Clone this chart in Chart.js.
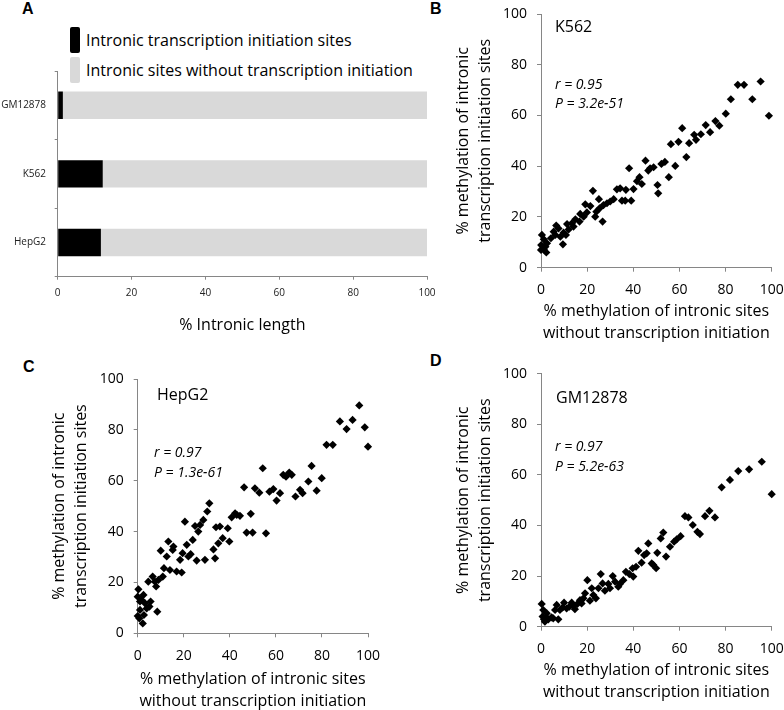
<!DOCTYPE html>
<html>
<head>
<meta charset="utf-8">
<script src="https://cdn.jsdelivr.net/npm/chart.js@4.4.0/dist/chart.umd.min.js"></script>
<style>
  html, body { margin: 0; padding: 0; background: #fff; }
  body { width: 784px; height: 710px; position: relative; overflow: hidden; font-family: 'Open Sans', sans-serif; color: #000; }
  canvas { position: absolute; }
  .panel { position: absolute; font-family: 'Liberation Sans', Arial, sans-serif; font-weight: bold; font-size: 16px; line-height: 16px; }
  .note { position: absolute; font-size: 16px; line-height: 20px; white-space: nowrap; }
  .stat { position: absolute; font-size: 14px; line-height: 20px; font-style: italic; white-space: nowrap; }
  .leg { position: absolute; left: 70px; display: flex; align-items: center; font-size: 16px; white-space: nowrap; }
  .leg span.box { display: inline-block; width: 10px; height: 26px; border-radius: 2px; margin-right: 6px; }
</style>
</head>
<body>
<div class="panel" style="left:22px;top:1px">A</div>
<div class="panel" style="left:430px;top:1px">B</div>
<div class="panel" style="left:23px;top:359px">C</div>
<div class="panel" style="left:430px;top:353px">D</div>

<div id="legendA"></div>

<canvas id="chartA" width="440" height="345" style="left:0;top:0"></canvas>
<canvas id="chartB" width="344" height="345" style="left:440px;top:0"></canvas>
<canvas id="chartC" width="400" height="370" style="left:0;top:345px"></canvas>
<canvas id="chartD" width="344" height="365" style="left:440px;top:345px"></canvas>

<div class="note" style="left:555px;top:16px">K562</div>
<div class="stat" style="left:555px;top:74px">r = 0.95</div>
<div class="stat" style="left:555px;top:93px">P = 3.2e-51</div>

<div class="note" style="left:157px;top:384px">HepG2</div>
<div class="stat" style="left:154px;top:442px">r = 0.97</div>
<div class="stat" style="left:154px;top:462px">P = 1.3e-61</div>

<div class="note" style="left:556px;top:387px">GM12878</div>
<div class="stat" style="left:555px;top:436px">r = 0.97</div>
<div class="stat" style="left:555px;top:456px">P = 5.2e-63</div>

<script>
// panel A: share of intronic length
const cellLines = ['GM12878', 'K562', 'HepG2'];
const initiationShare = [1.4, 12.2, 11.7];
const noInitiationShare = [98.6, 87.8, 88.3];
const percentTicks = [0, 20, 40, 60, 80, 100];

// panels B-D: [% methylation without initiation, % methylation of initiation sites]
const k562Points = [
  [82.3,66.4],[85.3,72.1],[88,72.1],[91.6,66.4],[95.2,73.4],[98.8,59.9],[80.1,60.7],[77.3,56],
  [75.6,57.8],[73.3,53.4],[71.4,56.2],[69.3,52.6],[67.2,50.4],[66.4,52.4],[64.2,49.1],[63,43.6],
  [61.2,55],[59.6,49.6],[58.2,40.1],[56.3,48.7],[55.4,35.7],[53.7,41.7],[52.2,40.9],[50.5,32.6],
  [50.8,29.3],[48.8,39.6],[47.3,39.2],[46.5,38.3],[45.3,42.2],[43.7,33],[42.7,35.7],[41.6,34.1],
  [40.1,31],[38.2,39.2],[39.1,26.4],[36.5,26.4],[35.1,26.4],[36.8,30.7],[34.3,31.3],[32.9,30.9],
  [31.5,27],[30,26.1],[28.6,25.4],[27.1,24.7],[25.1,27],[25.4,23.4],[22.5,30.3],[23.5,20.1],
  [26.7,18.2],[24,22.1],[21.4,24.3],[19.2,25],[19.9,21.8],[18.5,20.1],[17,21.2],[16.7,18.2],
  [14.9,19.1],[14.1,16.2],[13.4,17.5],[12,15.1],[11.3,17.2],[10.8,12.9],[9.5,9.2],[9.8,13.8],
  [8.4,12.2],[7.6,15.5],[6.6,16.6],[6.2,12.9],[5.5,14.2],[4.3,11.6],[2.6,9.6],[2.3,6],
  [1.9,8.3],[1.2,7.2],[0.4,12.9],[0.1,8.9],[0,7],[1.2,11.2]
];
const hepg2Points = [
  [96.2,89.6],[93.3,83.9],[87.8,83.3],[90.7,80.3],[98.6,81],[100,73.4],[82,74.1],[84.7,74.1],
  [79.9,61],[77.7,56.1],[75.5,65.8],[74.1,59.7],[71.6,55.1],[70.5,56.4],[68.5,53.8],[66.9,62.3],
  [65.8,63.2],[64.4,61.6],[63.2,62.3],[61.8,55.1],[60.3,52.2],[58.9,56.7],[57.2,55.7],[54.3,64.9],
  [52.8,55.3],[50.9,57],[46.2,57.4],[55.7,39.3],[49.9,39.6],[47.3,39.6],[49.1,47],[44.4,46.2],
  [43,46.6],[42.3,47.2],[40.8,45.6],[39.8,36.1],[39.1,41.3],[36.9,37.4],[35.7,42],[35,35.4],
  [34,41.7],[32.9,33],[33.6,29.5],[31.1,51.1],[30.2,47.9],[29.2,28.9],[28.5,44.6],[27.1,42.6],
  [25.6,28.6],[26.3,40],[24.9,42.2],[23.9,36.7],[23,31.1],[22,30.2],[21.3,34.8],[20.5,43.9],
  [19.5,31.5],[18.4,28.9],[16.9,24.3],[19.1,23.9],[15.2,32.8],[15.5,34.1],[13.3,36.1],[12.6,30.2],
  [14,24.9],[11.4,25.6],[10.9,22.3],[10,32.5],[9,21],[8,18.4],[7.5,20.3],[6.5,22.3],
  [4.6,20.3],[8.5,8.5],[5.6,12.5],[5.1,10.5],[2.7,7.2],[2.2,3.9],[1.7,13.1],[1,9.2],
  [0.7,5.9],[0.3,17.3],[0,14.4],[3.2,11.8],[2.5,15.1],[3.9,9.8],[0,6.8],[1,12.5]
];
const gm12878Points = [
  [95.7,65.2],[90.2,62.2],[85.5,61.5],[81.9,58],[78.3,55.1],[100,52.4],[75.4,43.2],[73,45.8],
  [71.1,43.7],[68.9,36.6],[67.8,37.5],[65.8,40.2],[63.9,43.2],[62.4,43.7],[60.5,35.8],[58.8,34.5],
  [57.7,33.6],[55.9,31.6],[54.2,27.7],[53,37.2],[51.9,34.9],[50.4,29.2],[49.9,23.1],[48.7,24.4],
  [48,25],[46.5,32.9],[45.8,29],[44.7,28.3],[43.6,25.3],[42.2,30],[41.2,23.7],[40,19.8],
  [39.7,23.1],[38.3,20.8],[36.8,21.7],[35.7,18.4],[34.2,16.9],[33.5,15.8],[32.1,17.8],[31.1,20],
  [29.9,15.2],[29.2,16.9],[27.7,14.2],[26.7,17.1],[25.9,20.8],[24.9,15.2],[23.8,11.2],[22.7,12.5],
  [22,15.2],[21.2,10.3],[20.1,18.4],[19.1,13.2],[18.4,11.2],[17.6,9.2],[16.9,10.5],[15.8,9],
  [14.7,6.9],[14,8.2],[13.3,9.5],[12.3,7.9],[11.1,7.2],[10,9.5],[9.4,7.6],[8.2,6.6],
  [7.5,2.9],[6.8,8.6],[6.1,6.6],[5.3,3.3],[4.6,3.7],[3.2,2.9],[2.5,5.3],[1.7,2],
  [1,6.6],[0.7,4],[0.3,9],[1.3,2.9],[2.2,3.7]
];

const xTitleLines = ['% methylation of intronic sites', 'without transcription initiation'];
const yTitleLines = ['% methylation of intronic', 'transcription initiation sites'];

const axisColor = '#868686';
Chart.defaults.font.family = "'Open Sans', sans-serif";
Chart.defaults.color = '#000';

// fix the axis boxes so the plot areas land where the figure has them
function fixWidth(w) {
  return s => { s.width = w; s.paddingTop = 0; s.paddingBottom = 0; };
}
function fixHeight(h) {
  return s => { s.height = h; s.paddingLeft = 0; s.paddingRight = 0; };
}

const chartA = new Chart(document.getElementById('chartA'), {
  type: 'bar',
  data: {
    labels: cellLines,
    datasets: [
      { label: 'Intronic transcription initiation sites', data: initiationShare, backgroundColor: '#000000' },
      { label: 'Intronic sites without transcription initiation', data: noInitiationShare, backgroundColor: '#d9d9d9' }
    ]
  },
  options: {
    indexAxis: 'y',
    responsive: false,
    animation: false,
    barPercentage: 0.4,
    categoryPercentage: 1,
    layout: { padding: { left: 0, top: 71, right: 13, bottom: 10 } },
    plugins: { legend: { display: false }, tooltip: { enabled: false } },
    scales: {
      x: {
        stacked: true, min: 0, max: 100,
        afterBuildTicks: s => { s.ticks = percentTicks.map(v => ({ value: v })); },
        ticks: { font: { size: 10 }, padding: 7.3, color: '#222' },
        grid: { drawOnChartArea: false, tickLength: 3, color: axisColor },
        border: { color: axisColor },
        title: { display: true, text: '% Intronic length', font: { size: 16, lineHeight: 1.2 }, padding: { top: 0, bottom: 0.4 } },
        afterFit: fixHeight(58.3)
      },
      y: {
        stacked: true,
        ticks: { font: { size: 10 }, padding: 8.7, color: '#222' },
        grid: { drawOnChartArea: false, tickLength: 3, color: axisColor },
        border: { color: axisColor },
        afterFit: fixWidth(57.7)
      }
    }
  }
});

// legend for panel A, built from the chart's datasets
const legendEl = document.getElementById('legendA');
chartA.data.datasets.forEach((ds, i) => {
  const row = document.createElement('div');
  row.className = 'leg';
  row.style.top = (27 + i * 30.3) + 'px';
  row.innerHTML = `<span class="box" style="background:${ds.backgroundColor}"></span><span>${ds.label}</span>`;
  legendEl.appendChild(row);
});

function scatterChart(id, points, cfg) {
  return new Chart(document.getElementById(id), {
    type: 'scatter',
    data: {
      datasets: [{
        data: points.map(p => ({ x: p[0], y: p[1] })),
        pointStyle: 'rectRot',
        pointRadius: 4.1,
        backgroundColor: '#000',
        borderColor: '#000',
        borderWidth: 0,
        clip: false
      }]
    },
    options: {
      responsive: false,
      animation: false,
      layout: { padding: cfg.padding },
      plugins: { legend: { display: false }, tooltip: { enabled: false } },
      scales: {
        x: {
          type: 'linear', min: 0, max: 100,
          afterBuildTicks: s => { s.ticks = percentTicks.map(v => ({ value: v })); },
          ticks: { font: { size: 14 }, padding: 10 },
          grid: { drawOnChartArea: false, tickLength: 4, color: axisColor },
          border: { color: axisColor },
          title: { display: true, text: xTitleLines, font: { size: 16, lineHeight: 1.375 }, padding: { top: 0, bottom: 1 } },
          afterFit: fixHeight(cfg.xHeight)
        },
        y: {
          type: 'linear', min: 0, max: 100,
          afterBuildTicks: s => { s.ticks = percentTicks.map(v => ({ value: v })); },
          ticks: { font: { size: 14 }, padding: 10 },
          grid: { drawOnChartArea: false, tickLength: 4, color: axisColor },
          border: { color: axisColor },
          title: { display: true, text: yTitleLines, font: { size: 16, lineHeight: 1.375 }, padding: { top: 0, bottom: 0 } },
          afterFit: fixWidth(cfg.yWidth)
        }
      }
    }
  });
}

scatterChart('chartB', k562Points, { padding: { left: 12, top: 14, right: 12.3, bottom: 0 }, xHeight: 77.3, yWidth: 89 });
scatterChart('chartC', hepg2Points, { padding: { left: 48, top: 34, right: 32, bottom: 2 }, xHeight: 79.7, yWidth: 89.7 });
scatterChart('chartD', gm12878Points, { padding: { left: 12, top: 28.7, right: 12.3, bottom: 6 }, xHeight: 77.3, yWidth: 89 });
</script>
</body>
</html>
